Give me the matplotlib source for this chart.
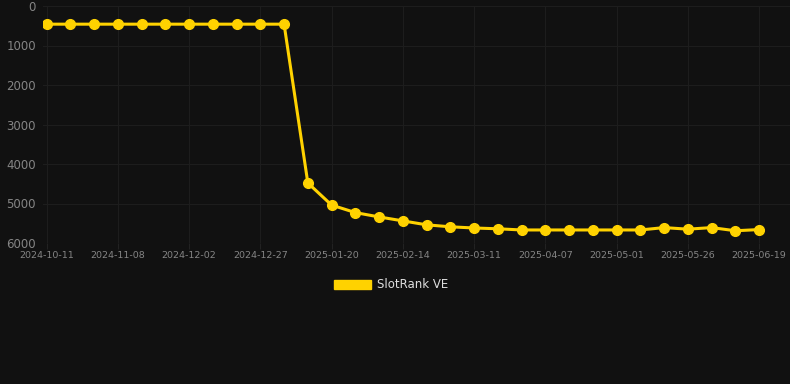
import matplotlib
matplotlib.use('Agg')
import matplotlib.pyplot as plt
import numpy as np

# Données
tick_labels = ['2024-10-11', '2024-11-08', '2024-12-02', '2024-12-27', '2025-01-20',
               '2025-02-14', '2025-03-11', '2025-04-07', '2025-05-01', '2025-05-26',
               '2025-06-19']
rank = [460, 460, 460, 460, 460, 460, 460, 460, 460, 460, 460,
        4480, 5040, 5230, 5340, 5440, 5540, 5590, 5620, 5640, 5670,
        5670, 5670, 5670, 5670, 5670, 5610, 5650, 5610, 5690, 5660]
series_name = 'SlotRank VE'

bg = '#111111'
gold = '#FFD200'

fig = plt.figure(figsize=(7.9, 3.84), dpi=100, facecolor=bg)
ax = fig.add_axes([43 / 790, 1 - 243 / 384, (790 - 43) / 790, (243 - 6) / 384])
ax.set_facecolor(bg)

x = np.arange(len(rank))
ax.plot(x, rank, color=gold, linewidth=2.2, marker='o', markersize=7,
        markerfacecolor=gold, markeredgecolor=gold, label=series_name, zorder=3)

ax.set_xlim(-0.15, 31.3)
ax.set_ylim(6000, 0)
ax.set_yticks(np.arange(0, 6001, 1000))
ax.set_xticks(x[::3])
ax.set_xticklabels(tick_labels)

ax.grid(True, color='#1d1d1d', linewidth=0.8)
for s in ax.spines.values():
    s.set_visible(False)
ax.tick_params(axis='y', colors='#858585', labelsize=8.5, length=0, pad=5)
ax.tick_params(axis='x', colors='#222222', labelcolor='#858585', labelsize=6.8,
               length=4, pad=2)

# Légende sous le graphique
handle = plt.Rectangle((0, 0), 1, 1, color=gold)
leg = fig.legend([handle], [series_name], loc='center', bbox_to_anchor=(0.495, 1 - 285 / 384),
                 frameon=False, fontsize=8.5, handlelength=3.2, handleheight=0.9,
                 handletextpad=0.5)
for t in leg.get_texts():
    t.set_color('#dddddd')

fig.savefig('out.png', dpi=100, facecolor=bg)
